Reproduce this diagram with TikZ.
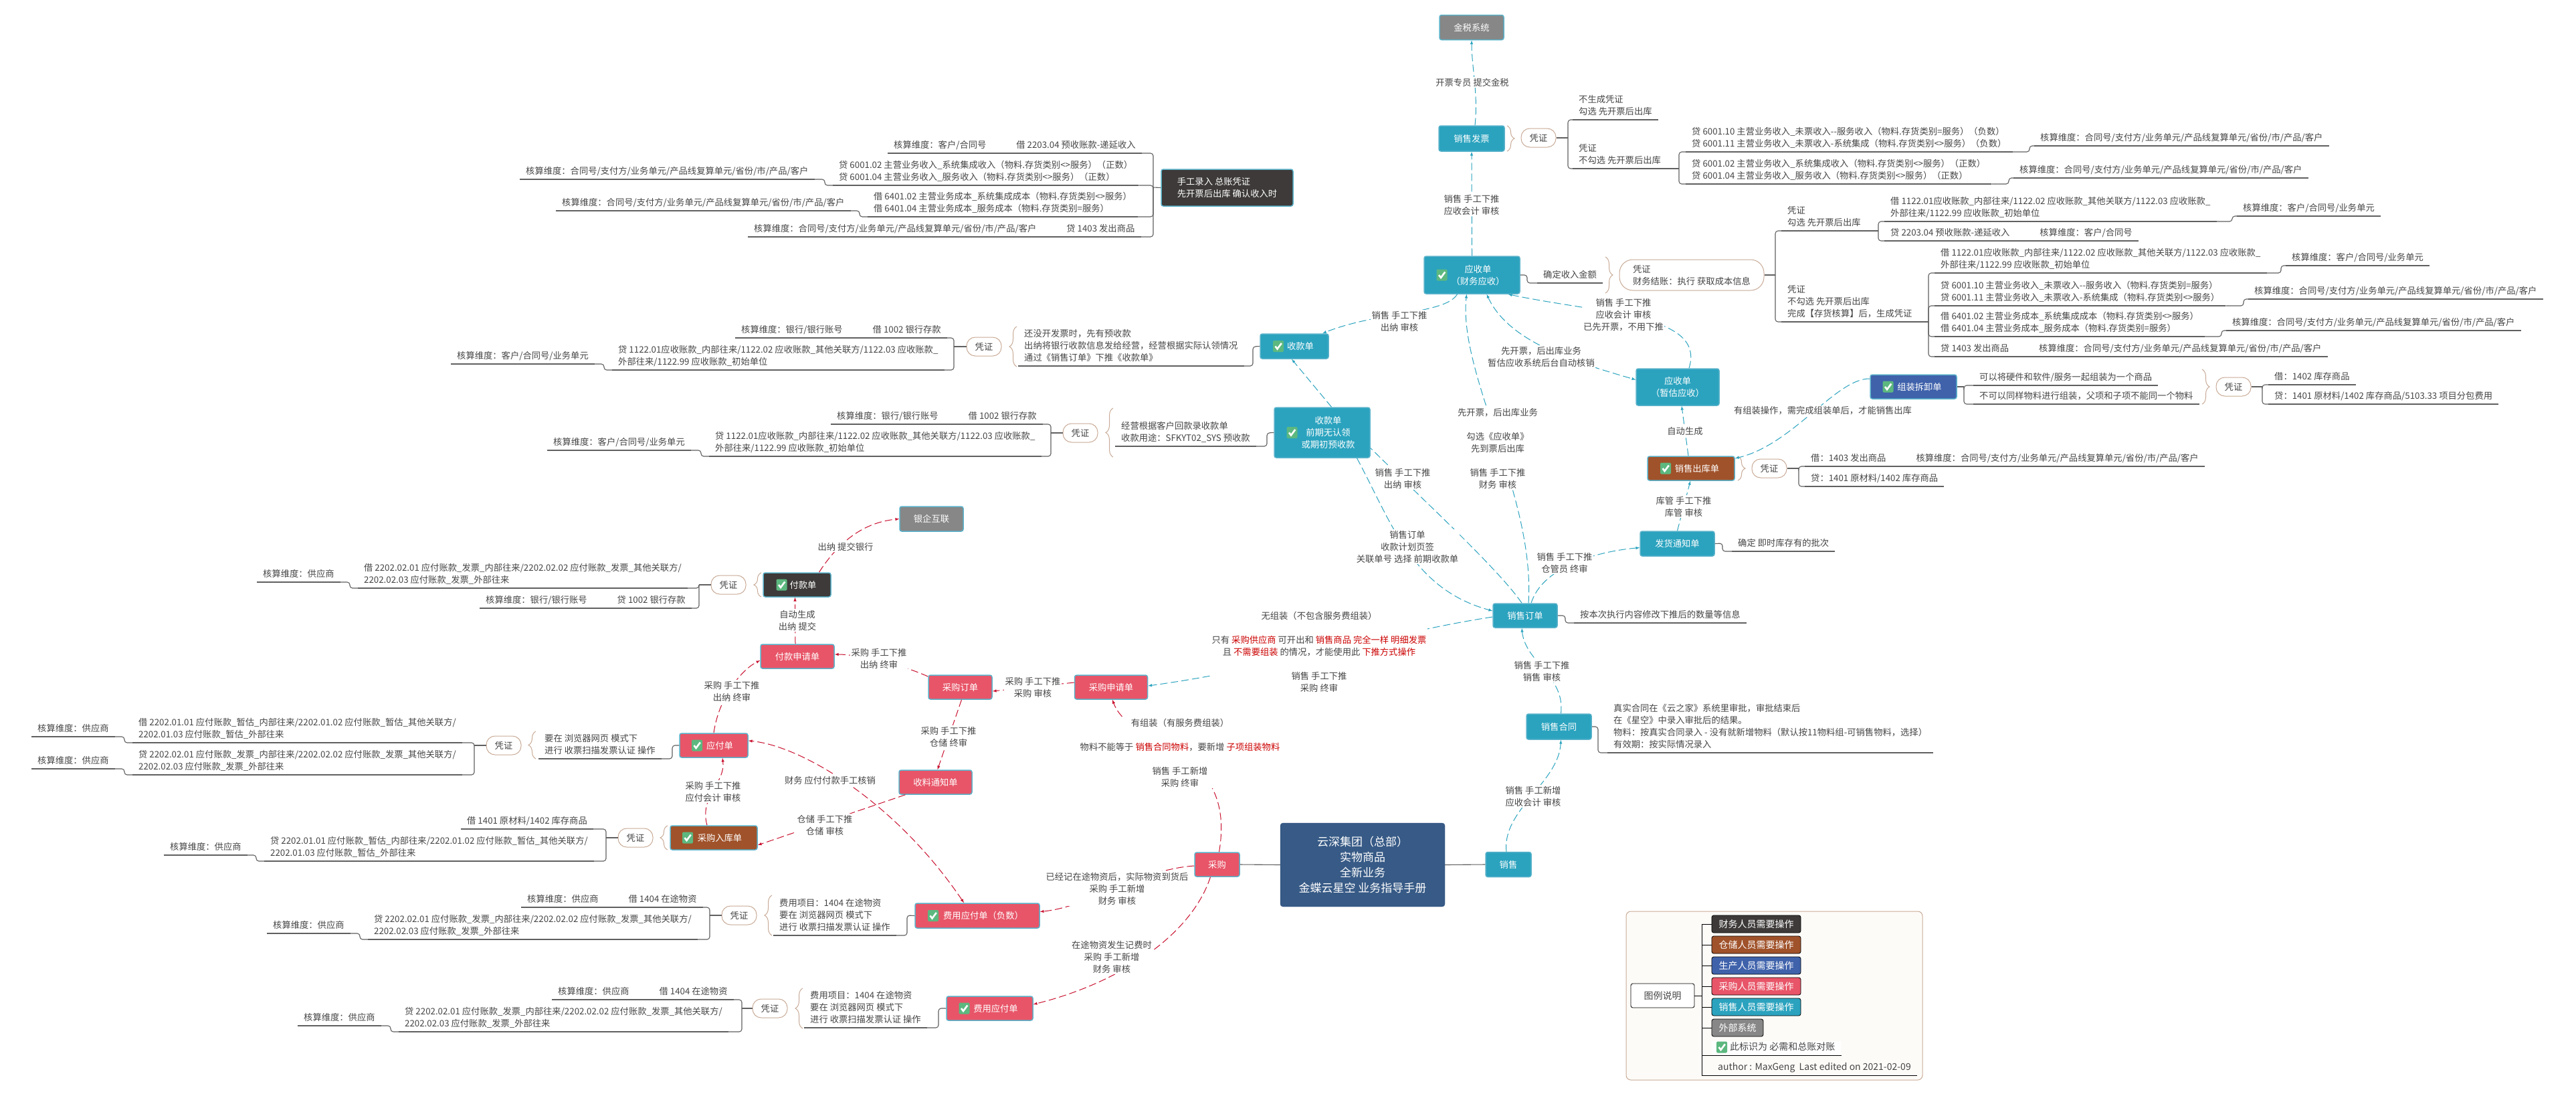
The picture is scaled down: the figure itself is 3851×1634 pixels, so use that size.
\documentclass[tikz,border=0pt]{standalone}
\usepackage{fontspec}
\setmainfont{Noto Sans CJK SC}
\usetikzlibrary{decorations.pathreplacing}
\definecolor{ink}{HTML}{454545}
\definecolor{mapteal}{HTML}{2BA3BF}
\definecolor{mapred}{HTML}{E85568}
\definecolor{mapbrown}{HTML}{A0522A}
\definecolor{mapdark}{HTML}{3D3A39}
\definecolor{mapblue}{HTML}{3F62AB}
\definecolor{mapgray}{HTML}{878787}
\definecolor{mapnavy}{HTML}{375A86}
\definecolor{edgeteal}{HTML}{5AB2CA}
\definecolor{linered}{HTML}{C8102E}
\definecolor{tanline}{HTML}{C8AA96}
\definecolor{twig}{HTML}{606060}
\definecolor{alert}{HTML}{CC0000}
\definecolor{tickgreen}{HTML}{5CB87F}
\definecolor{paper}{HTML}{FDFBF8}
\newcommand{\mapfont}{\fontsize{13.3}{18}\selectfont}
\newcommand{\legfont}{\fontsize{14}{18}\selectfont}
\newcommand{\gap}{\hspace{45pt}}
\newcommand{\tk}[1]{\hspace*{18pt}#1}
\newcommand{\rd}[1]{\textcolor{alert}{#1}}
\newcommand{\stepR}[2]{\draw[branch] (#1.south east) -| ([xshift=-7]#2.south west) -- (#2.south west);}
\newcommand{\stepL}[2]{\draw[branch] (#1.south west) -- ++(-12,0) |- (#2.south east);}
\newcommand{\dimAll}{核算维度：合同号/支付方/业务单元/产品线复算单元/省份/市/产品/客户}
\newcommand{\dimCust}{核算维度：客户/合同号/业务单元}
\newcommand{\dimSup}{核算维度：供应商}
\tikzset{
  box/.style={draw=edgeteal, line width=1.5pt, rounded corners=3, text=white, align=center},
  salebox/.style={box, fill=mapteal},
  buybox/.style={box, fill=mapred},
  darkbox/.style={box, fill=mapdark},
  storebox/.style={box, fill=mapbrown},
  makebox/.style={box, fill=mapblue},
  extbox/.style={box, fill=mapgray},
  pill/.style={draw=tanline, fill=white, line width=1pt, rounded corners=13, minimum width=52, minimum height=28, align=left},
  branch/.style={draw=twig, line width=1.1pt, rounded corners=4},
  leaf/.style={anchor=south west, align=left, inner xsep=9pt, inner ysep=1.6pt,
    execute at end node=\strut,
    append after command={(\tikzlastnode.south west) edge[branch] (\tikzlastnode.south east)}},
  flowT/.style={draw=mapteal, line width=1pt, dash pattern=on 11pt off 5pt, -latex},
  flowR/.style={draw=linered, line width=1pt, dash pattern=on 11pt off 5pt, -latex},
  lab/.style={fill=white, inner sep=1.5pt, align=center},
  bracket/.style={draw=tanline, line width=1pt, decorate, decoration={brace, amplitude=11}},
  legitem/.style={draw=black, line width=.8pt, rounded corners=3, text=white, minimum height=26, minimum width=133, font=\legfont},
  legtext/.style={anchor=south west, align=left, inner xsep=9pt, inner ysep=1.6pt, font=\legfont, execute at end node=\strut},
  legline/.style={draw=black, line width=1pt},
  tick/.pic={
    \fill[tickgreen, rounded corners=2] (-8,-8.5) rectangle (8,8.5);
    \draw[white, line width=2.6pt] (-4.5,0) -- (-1.5,4) -- (4.8,-4.5);
  }
}
\begin{document}
\begin{tikzpicture}[x=1pt, y=-1pt, every node/.style={font=\mapfont, text=ink}]
  \useasboundingbox (0,0) rectangle (3851,1634);

  \node[extbox, minimum width=96, minimum height=37] (Tax) at (2200,41) {金税系统};
  \node[salebox, minimum width=98, minimum height=38] (Invoice) at (2200,207) {销售发票};
  \node[salebox, minimum width=143, minimum height=56] (ArFin) at (2200.5,411) {\tk{应收单}\\\tk{（财务应收）}};
  \node[salebox, minimum width=102, minimum height=37] (RecvA) at (1935,517.5) {\tk{收款单}};
  \node[salebox, minimum width=143, minimum height=75] (RecvB) at (1976.5,646.5) {\tk{收款单}\\\tk{前期无认领}\\\tk{或期初预收款}};
  \node[salebox, minimum width=124, minimum height=55] (ArEst) at (2508,578.5) {应收单\\（暂估应收）};
  \node[storebox, minimum width=130, minimum height=36] (Outstock) at (2528,700) {\tk{销售出库单}};
  \node[salebox, minimum width=111, minimum height=37] (Notice) at (2507.5,812.5) {发货通知单};
  \node[makebox, minimum width=129, minimum height=36] (Assemble) at (2860.5,578) {\tk{组装拆卸单}};
  \node[salebox, minimum width=96, minimum height=36] (Order) at (2280,920) {销售订单};
  \node[salebox, minimum width=97, minimum height=38] (Contract) at (2330.5,1086) {销售合同};
  \node[salebox, minimum width=68, minimum height=37] (Sale) at (2255,1292) {销售};
  \node[draw=mapnavy, fill=mapnavy, rounded corners=4, text=white, align=center, minimum width=246, minimum height=125,
    font=\fontsize{17}{23}\selectfont] (Root) at (2037,1292.5) {云深集团（总部）\\实物商品\\全新业务\\金蝶云星空 业务指导手册};
  \node[buybox, minimum width=67, minimum height=36] (Buy) at (1819.5,1292) {采购};
  \node[buybox, minimum width=109, minimum height=36] (PurReq) at (1661,1027) {采购申请单};
  \node[buybox, minimum width=95, minimum height=36] (PurOrd) at (1435.5,1027) {采购订单};
  \node[buybox, minimum width=109, minimum height=36] (Arrival) at (1398.5,1169) {收料通知单};
  \node[buybox, minimum width=110, minimum height=36] (PayReq) at (1192,981) {付款申请单};
  \node[darkbox, minimum width=101, minimum height=36] (PayBill) at (1191.5,874) {\tk{付款单}};
  \node[extbox, minimum width=95, minimum height=37] (Bank) at (1392.5,775.5) {银企互联};
  \node[buybox, minimum width=102, minimum height=36] (Payable) at (1067,1114) {\tk{应付单}};
  \node[storebox, minimum width=130, minimum height=36] (Instock) at (1067,1252) {\tk{采购入库单}};
  \node[buybox, minimum width=186, minimum height=37] (FeeNeg) at (1461,1368.5) {\tk{费用应付单（负数）}};
  \node[buybox, minimum width=129, minimum height=36] (Fee) at (1479.5,1507) {\tk{费用应付单}};
  \node[darkbox, minimum width=197, minimum height=55, align=left] (Manual) at (1834.5,280.5) {手工录入 总账凭证\\先开票后出库 确认收入时};

  \pic at ([xshift=-45]ArFin.center) {tick};
  \pic at ([xshift=-24]RecvA.center) {tick};
  \pic at ([xshift=-45]RecvB.center) {tick};
  \pic at ([xshift=-38]Outstock.center) {tick};
  \pic at ([xshift=-38]Assemble.center) {tick};
  \pic at ([xshift=-23]PayBill.center) {tick};
  \pic at ([xshift=-25]Payable.center) {tick};
  \pic at ([xshift=-39]Instock.center) {tick};
  \pic at ([xshift=-66]FeeNeg.center) {tick};
  \pic at ([xshift=-38]Fee.center) {tick};

  \node[leaf] (M1) at (1327,229) {核算维度：客户/合同号\gap 借 2203.04 预收账款-递延收入};
  \node[leaf] (M2) at (1245,277) {贷 6001.02 主营业务收入\_系统集成收入（物料.存货类别<>服务）（正数）\\贷 6001.04 主营业务收入\_服务收入（物料.存货类别<>服务）（正数）};
  \node[leaf] (M2a) at (777,268) {\dimAll};
  \node[leaf] (M3) at (1297,324) {借 6401.02 主营业务成本\_系统集成成本（物料.存货类别<>服务）\\借 6401.04 主营业务成本\_服务成本（物料.存货类别=服务）};
  \node[leaf] (M3a) at (831,315) {\dimAll};
  \node[leaf] (M4) at (1118,354) {\dimAll\gap 贷 1403 发出商品};
  \coordinate (TrM) at (1724,280);
  \draw[branch] (Manual.west) -- (TrM);
  \draw[branch] (TrM) |- (M1.south east);
  \draw[branch] (TrM) |- (M2.south east);
  \draw[branch] (TrM) |- (M3.south east);
  \draw[branch] (TrM) |- (M4.south east);
  \stepL{M2}{M2a}
  \stepL{M3}{M3a}

  \draw[bracket] (2253,188) -- (2253,226);
  \node[pill] (PillI) at (2300,206) {凭证};
  \coordinate (TrI) at (2344,206);
  \coordinate (TrJ) at (2510,252);
  \node[leaf] (I1) at (2351,179) {不生成凭证\\勾选 先开票后出库};
  \node[leaf] (I2) at (2351,252) {凭证\\不勾选 先开票后出库};
  \node[leaf] (J1) at (2520,227) {贷 6001.10 主营业务收入\_未票收入-{}-服务收入（物料.存货类别=服务）（负数）\\贷 6001.11 主营业务收入\_未票收入-系统集成（物料.存货类别<>服务）（负数）};
  \node[leaf] (J1a) at (3041,218) {\dimAll};
  \node[leaf] (J2) at (2520,275) {贷 6001.02 主营业务收入\_系统集成收入（物料.存货类别<>服务）（正数）\\贷 6001.04 主营业务收入\_服务收入（物料.存货类别<>服务）（正数）};
  \node[leaf] (J2a) at (3010,266) {\dimAll};
  \draw[branch] (PillI.east) -- (TrI);
  \draw[branch] (TrI) |- (I1.south west);
  \draw[branch] (TrI) |- (I2.south west);
  \draw[branch] (I2.south east) -- (TrJ);
  \draw[branch] (TrJ) |- (J1.south west);
  \draw[branch] (TrJ) |- (J2.south west);
  \stepR{J1}{J1a}
  \stepR{J2}{J2a}

  \coordinate (TrF) at (2283,411);
  \node[leaf] (Conf) at (2298,423) {确定收入金额};
  \draw[branch] (ArFin.east) -- (TrF) |- (Conf.south west);
  \draw[bracket] (2400,384) -- (2400,438);
  \node[pill, rounded corners=20, minimum width=216, minimum height=46] (PillF) at (2529,411) {凭证\\财务结账：执行 获取成本信息};
  \coordinate (TrG) at (2654,411);
  \coordinate (TrH) at (2808,345);
  \coordinate (TrK) at (2883,481);
  \node[leaf] (G1) at (2663,345) {凭证\\勾选 先开票后出库};
  \node[leaf] (G2) at (2663,481) {凭证\\不勾选 先开票后出库\\完成【存货核算】后，生成凭证};
  \node[leaf] (H1) at (2817,331) {借 1122.01应收账款\_内部往来/1122.02 应收账款\_其他关联方/1122.03 应收账款\_\\外部往来/1122.99 应收账款\_初始单位};
  \node[leaf] (H1a) at (3344,323) {\dimCust};
  \node[leaf] (H2) at (2817,360) {贷 2203.04 预收账款-递延收入\gap 核算维度：客户/合同号};
  \node[leaf] (K1) at (2892,408) {借 1122.01应收账款\_内部往来/1122.02 应收账款\_其他关联方/1122.03 应收账款\_\\外部往来/1122.99 应收账款\_初始单位};
  \node[leaf] (K1a) at (3417,397) {\dimCust};
  \node[leaf] (K2) at (2892,457) {贷 6001.10 主营业务收入\_未票收入-{}-服务收入（物料.存货类别=服务）\\贷 6001.11 主营业务收入\_未票收入-系统集成（物料.存货类别<>服务）};
  \node[leaf] (K2a) at (3361,447) {\dimAll};
  \node[leaf] (K3) at (2892,503) {借 6401.02 主营业务成本\_系统集成成本（物料.存货类别<>服务）\\借 6401.04 主营业务成本\_服务成本（物料.存货类别=服务）};
  \node[leaf] (K3a) at (3328,494) {\dimAll};
  \node[leaf] (K4) at (2892,533) {贷 1403 发出商品\gap \dimAll};
  \draw[branch] (PillF.east) -- (TrG);
  \draw[branch] (TrG) |- (G1.south west);
  \draw[branch] (TrG) |- (G2.south west);
  \draw[branch] (G1.south east) -- (TrH);
  \draw[branch] (G2.south east) -- (TrK);
  \draw[branch] (TrH) |- (H1.south west);
  \draw[branch] (TrH) |- (H2.south west);
  \draw[branch] (TrK) |- (K1.south west);
  \draw[branch] (TrK) |- (K2.south west);
  \draw[branch] (TrK) |- (K3.south west);
  \draw[branch] (TrK) |- (K4.south west);
  \stepR{H1}{H1a}
  \stepR{K1}{K1a}
  \stepR{K2}{K2a}
  \stepR{K3}{K3a}

  \coordinate (TrA) at (1873,518);
  \coordinate (TrB) at (1426,518);
  \node[leaf] (A0) at (1522,547) {还没开发票时，先有预收款\\出纳将银行收款信息发给经营，经营根据实际认领情况\\通过《销售订单》下推《收款单》};
  \draw[bracket] (1520,548) -- (1520,488);
  \node[pill] (PillA) at (1471,518) {凭证};
  \node[leaf] (A1) at (1099,505) {核算维度：银行/银行账号\gap 借 1002 银行存款};
  \node[leaf] (A2) at (915,553) {贷 1122.01应收账款\_内部往来/1122.02 应收账款\_其他关联方/1122.03 应收账款\_\\外部往来/1122.99 应收账款\_初始单位};
  \node[leaf] (A2a) at (674,544) {\dimCust};
  \draw[branch] (RecvA.west) -- (TrA) |- (A0.south east);
  \draw[branch] (PillA.west) -- (TrB);
  \draw[branch] (TrB) |- (A1.south east);
  \draw[branch] (TrB) |- (A2.south east);
  \stepL{A2}{A2a}

  \coordinate (TrC) at (1894,647);
  \coordinate (TrD) at (1571,647);
  \node[leaf] (B0) at (1667,667) {经营根据客户回款录收款单\\收款用途：SFKYT02\_SYS 预收款};
  \draw[bracket] (1664,683) -- (1664,610);
  \node[pill] (PillB) at (1615,647) {凭证};
  \node[leaf] (B1) at (1242,634) {核算维度：银行/银行账号\gap 借 1002 银行存款};
  \node[leaf] (B2) at (1060,682) {贷 1122.01应收账款\_内部往来/1122.02 应收账款\_其他关联方/1122.03 应收账款\_\\外部往来/1122.99 应收账款\_初始单位};
  \node[leaf] (B2a) at (818,673) {\dimCust};
  \draw[branch] (RecvB.west) -- (TrC) |- (B0.south east);
  \draw[branch] (PillB.west) -- (TrD);
  \draw[branch] (TrD) |- (B1.south east);
  \draw[branch] (TrD) |- (B2.south east);
  \stepL{B2}{B2a}

  \coordinate (TrO) at (2340,920);
  \coordinate (TrN) at (2389,1086);
  \coordinate (TrP) at (2575,812);
  \node[leaf] (O1) at (2353,931) {按本次执行内容修改下推后的数量等信息};
  \node[leaf] (N1) at (2403,1125) {真实合同在《云之家》系统里审批，审批结束后\\在《星空》中录入审批后的结果。\\物料：按真实合同录入 - 没有就新增物料（默认按11物料组-可销售物料，选择）\\有效期：按实际情况录入};
  \node[leaf] (P1) at (2589,824) {确定 即时库存有的批次};
  \draw[branch] (Order.east) -- (TrO) |- (O1.south west);
  \draw[branch] (Contract.east) -- (TrN) |- (N1.south west);
  \draw[branch] (Notice.east) -- (TrP) |- (P1.south west);

  \coordinate (TrQ) at (2936,578);
  \coordinate (TrR) at (3382,578);
  \node[leaf] (Q1) at (2950,576) {可以将硬件和软件/服务一起组装为一个商品};
  \node[leaf] (Q2) at (2950,604) {不可以同样物料进行组装，父项和子项不能同一个物料};
  \draw[bracket] (3292,552) -- (3292,604);
  \node[pill] (PillQ) at (3339,578) {凭证};
  \node[leaf] (R1) at (3391,575) {借：1402 库存商品};
  \node[leaf] (R2) at (3391,604) {贷：1401 原材料/1402 库存商品/5103.33 项目分包费用};
  \draw[branch] (Assemble.east) -- (TrQ);
  \draw[branch] (TrQ) |- (Q1.south west);
  \draw[branch] (TrQ) |- (Q2.south west);
  \draw[branch] (PillQ.east) -- (TrR);
  \draw[branch] (TrR) |- (R1.south west);
  \draw[branch] (TrR) |- (R2.south west);

  \draw[bracket] (2598,682) -- (2598,718);
  \coordinate (TrS) at (2689,700);
  \node[pill] (PillS) at (2645,700) {凭证};
  \node[leaf] (S1) at (2698,697) {借：1403 发出商品\gap \dimAll};
  \node[leaf] (S2) at (2698,727) {贷：1401 原材料/1402 库存商品};
  \draw[branch] (PillS.east) -- (TrS);
  \draw[branch] (TrS) |- (S1.south west);
  \draw[branch] (TrS) |- (S2.south west);

  \draw[bracket] (1138,892) -- (1138,856);
  \coordinate (TrT) at (1045,874);
  \node[pill] (PillP) at (1089,874) {凭证};
  \node[leaf] (T1) at (535,879) {借 2202.02.01 应付账款\_发票\_内部往来/2202.02.02 应付账款\_发票\_其他关联方/\\2202.02.03 应付账款\_发票\_外部往来};
  \node[leaf] (T1a) at (384,870) {\dimSup};
  \node[leaf] (T2) at (717,909) {核算维度：银行/银行账号\gap 贷 1002 银行存款};
  \draw[branch] (PillP.west) -- (TrT);
  \draw[branch] (TrT) |- (T1.south east);
  \draw[branch] (TrT) |- (T2.south east);
  \stepL{T1}{T1a}

  \coordinate (TrU) at (1005,1114);
  \coordinate (TrV) at (709,1114);
  \node[leaf] (U0) at (805,1134) {要在 浏览器网页 模式下\\进行 收票扫描发票认证 操作};
  \draw[bracket] (801,1134) -- (801,1093);
  \node[pill] (PillU) at (753,1114) {凭证};
  \node[leaf] (V1) at (198,1110) {借 2202.01.01 应付账款\_暂估\_内部往来/2202.01.02 应付账款\_暂估\_其他关联方/\\2202.01.03 应付账款\_暂估\_外部往来};
  \node[leaf] (V1a) at (47,1101) {\dimSup};
  \node[leaf] (V2) at (198,1158) {贷 2202.02.01 应付账款\_发票\_内部往来/2202.02.02 应付账款\_发票\_其他关联方/\\2202.02.03 应付账款\_发票\_外部往来};
  \node[leaf] (V2a) at (47,1149) {\dimSup};
  \draw[branch] (Payable.west) -- (TrU) |- (U0.south east);
  \draw[branch] (PillU.west) -- (TrV);
  \draw[branch] (TrV) |- (V1.south east);
  \draw[branch] (TrV) |- (V2.south east);
  \stepL{V1}{V1a}
  \stepL{V2}{V2a}

  \draw[bracket] (998,1270) -- (998,1234);
  \coordinate (TrW) at (906,1252);
  \node[pill] (PillW) at (950,1252) {凭证};
  \node[leaf] (W1) at (689,1239) {借 1401 原材料/1402 库存商品};
  \node[leaf] (W2) at (395,1287) {贷 2202.01.01 应付账款\_暂估\_内部往来/2202.01.02 应付账款\_暂估\_其他关联方/\\2202.01.03 应付账款\_暂估\_外部往来};
  \node[leaf] (W2a) at (245,1278) {\dimSup};
  \draw[branch] (PillW.west) -- (TrW);
  \draw[branch] (TrW) |- (W1.south east);
  \draw[branch] (TrW) |- (W2.south east);
  \stepL{W2}{W2a}

  \coordinate (TrX) at (1356,1368);
  \coordinate (TrY) at (1061,1368);
  \node[leaf] (X0) at (1156,1398) {费用项目：1404 在途物资\\要在 浏览器网页 模式下\\进行 收票扫描发票认证 操作};
  \draw[bracket] (1154,1398) -- (1154,1338);
  \node[pill] (PillX) at (1105,1368) {凭证};
  \node[leaf] (Y1) at (779,1356) {\dimSup\gap 借 1404 在途物资};
  \node[leaf] (Y2) at (550,1404) {贷 2202.02.01 应付账款\_发票\_内部往来/2202.02.02 应付账款\_发票\_其他关联方/\\2202.02.03 应付账款\_发票\_外部往来};
  \node[leaf] (Y2a) at (399,1395) {\dimSup};
  \draw[branch] (FeeNeg.west) -- (TrX) |- (X0.south east);
  \draw[branch] (PillX.west) -- (TrY);
  \draw[branch] (TrY) |- (Y1.south east);
  \draw[branch] (TrY) |- (Y2.south east);
  \stepL{Y2}{Y2a}

  \coordinate (TrZ) at (1403,1507);
  \coordinate (TrE) at (1109,1507);
  \node[leaf] (Z0) at (1202,1536) {费用项目：1404 在途物资\\要在 浏览器网页 模式下\\进行 收票扫描发票认证 操作};
  \draw[bracket] (1200,1537) -- (1200,1477);
  \node[pill] (PillZ) at (1151,1507) {凭证};
  \node[leaf] (E1) at (825,1494) {\dimSup\gap 借 1404 在途物资};
  \node[leaf] (E2) at (596,1542) {贷 2202.02.01 应付账款\_发票\_内部往来/2202.02.02 应付账款\_发票\_其他关联方/\\2202.02.03 应付账款\_发票\_外部往来};
  \node[leaf] (E2a) at (445,1533) {\dimSup};
  \draw[branch] (Fee.west) -- (TrZ) |- (Z0.south east);
  \draw[branch] (PillZ.west) -- (TrE);
  \draw[branch] (TrE) |- (E1.south east);
  \draw[branch] (TrE) |- (E2.south east);
  \stepL{E2}{E2a}

  \draw[branch] (Root.west) -- (Buy.east);
  \draw[branch] (Root.east) -- (Sale.west);

  \draw[flowT] ([xshift=5]Invoice.north) .. controls (2210,140) and (2200,100) .. (Tax.south);
  \draw[flowT] (ArFin.north) -- (Invoice.south);
  \draw[flowT] ([xshift=-22]ArFin.south) .. controls (2160,470) and (2060,465) .. ([xshift=42]RecvA.north);
  \draw[flowT] ([xshift=14]RecvB.north) -- ([xshift=-4]RecvA.south);
  \draw[flowT] ([xshift=17]ArEst.north) .. controls (2550,470) and (2400,470) .. ([xshift=54]ArFin.south);
  \draw[flowT, latex-latex] ([xshift=22]ArFin.south) .. controls (2255,510) and (2350,540) .. ([yshift=11]ArEst.west);
  \draw[flowT] ([xshift=5]Order.north) .. controls (2295,740) and (2180,560) .. ([xshift=-8]ArFin.south);
  \draw[flowT, -] ([xshift=-5]Order.north) .. controls (2240,850) and (2120,740) .. ([yshift=-23]RecvB.east);
  \draw[flowT] ([xshift=52]RecvB.south) .. controls (2080,780) and (2110,880) .. ([yshift=7]Order.west);
  \draw[flowT] ([xshift=9]Order.north) .. controls (2305,850) and (2380,825) .. ([yshift=-6]Notice.west);
  \draw[flowT] (Notice.north) -- ([xshift=-1]Outstock.south);
  \draw[flowT] ([xshift=-4]Outstock.north) -- ([xshift=6]ArEst.south);
  \draw[flowT] ([yshift=12]Assemble.west) .. controls (2745,565) and (2680,665) .. ([yshift=15]Outstock.east);
  \draw[flowT] ([yshift=-2]Order.west) .. controls (2080,945) and (1900,1000) .. ([yshift=2]PurReq.east);
  \draw[flowT] ([xshift=3]Contract.north) .. controls (2340,1010) and (2280,990) .. ([xshift=-5]Order.south);
  \draw[flowT] ([xshift=-3]Sale.north) .. controls (2245,1210) and (2330,1170) .. ([xshift=3]Contract.south);

  \draw[flowR] ([xshift=3]Buy.north) .. controls (1850,1110) and (1690,1120) .. ([xshift=2]PurReq.south);
  \draw[flowR] ([yshift=7]PurReq.west) -- ([yshift=-6]PurOrd.east);
  \draw[flowR] ([yshift=16]PurOrd.west) .. controls (1340,990) and (1280,978) .. ([yshift=3]PayReq.east);
  \draw[flowR] ([xshift=2]PurOrd.south) -- ([xshift=3]Arrival.north);
  \draw[flowR] ([xshift=-45]Arrival.south) -- ([yshift=-11]Instock.east);
  \draw[flowR] ([xshift=-10]Instock.north) .. controls (1045,1190) and (1085,1170) .. ([xshift=13]Payable.south);
  \draw[flowR] (Payable.north) .. controls (1075,1040) and (1110,1000) .. ([yshift=-6]PayReq.west);
  \draw[flowR] ([xshift=-3]PayReq.north) -- ([xshift=-3]PayBill.south);
  \draw[flowR] ([xshift=33]PayBill.north) .. controls (1260,800) and (1300,780) .. (Bank.west);
  \draw[flowR, latex-latex] ([xshift=-20]FeeNeg.north) .. controls (1340,1200) and (1200,1115) .. ([yshift=7]Payable.east);
  \draw[flowR] ([yshift=-2]Buy.west) .. controls (1700,1300) and (1630,1355) .. ([yshift=6]FeeNeg.east);
  \draw[flowR] ([xshift=-10]Buy.south) .. controls (1780,1400) and (1670,1470) .. ([yshift=6]Fee.east);

  \node[lab] (LTax) at (2201,123) {开票专员 提交金税};
  \node[lab] (LInv) at (2200,306) {销售 手工下推\\应收会计 审核};
  \node[lab] (LRecv) at (2092,480) {销售 手工下推\\出纳 审核};
  \node[lab] (LEst) at (2427,471) {销售 手工下推\\应收会计 审核\\已先开票，不用下推};
  \node[lab] (LWrite) at (2304,533) {先开票，后出库业务\\暂估应收系统后台自动核销};
  \node[lab] (LLong) at (2239,670) {先开票，后出库业务\\[18pt]勾选《应收单》\\先到票后出库\\[18pt]销售 手工下推\\财务 审核};
  \node[lab] (LPre) at (2097,715) {销售 手工下推\\出纳 审核};
  \node[lab] (LPlan) at (2104,817) {销售订单\\收款计划页签\\关联单号 选择 前期收款单};
  \node[lab] (LShip) at (2339,841) {销售 手工下推\\仓管员 终审};
  \node[lab] (LStock) at (2517,757) {库管 手工下推\\库管 审核};
  \node[lab] (LAuto) at (2519,644) {自动生成};
  \node[lab] (LAsm) at (2725,614) {有组装操作，需完成组装单后，才能销售出库};
  \node[lab] (LOrder) at (1972,974) {无组装（不包含服务费组装）\\[18pt]只有 \rd{采购供应商} 可开出和 \rd{销售商品 完全一样 明细发票}\\且 \rd{不需要组装} 的情况，才能使用此 \rd{下推方式操作}\\[18pt]销售 手工下推\\采购 终审};
  \node[lab] (LSign) at (2305,1003) {销售 手工下推\\销售 审核};
  \node[lab] (LSale) at (2292,1190) {销售 手工新增\\应收会计 审核};
  \node[lab] (LReq) at (1764,1125) {有组装（有服务费组装）\\[18pt]物料不能等于 \rd{销售合同物料}，要新增 \rd{子项组装物料}\\[18pt]销售 手工新增\\采购 终审};
  \node[lab] (LPo) at (1544,1027) {采购 手工下推\\采购 审核};
  \node[lab] (LPay) at (1314,984) {采购 手工下推\\出纳 终审};
  \node[lab] (LArr) at (1418,1101) {采购 手工下推\\仓储 终审};
  \node[lab] (LIn) at (1233,1233) {仓储 手工下推\\仓储 审核};
  \node[lab] (LApp) at (1066,1183) {采购 手工下推\\应付会计 审核};
  \node[lab] (LPayReq) at (1094,1033) {采购 手工下推\\出纳 终审};
  \node[lab] (LWo) at (1241,1166) {财务 应付付款手工核销};
  \node[lab] (LBill) at (1192,927) {自动生成\\出纳 提交};
  \node[lab] (LBank) at (1264,817) {出纳 提交银行};
  \node[lab] (LNeg) at (1670,1328) {已经记在途物资后，实际物资到货后\\采购 手工新增\\财务 审核};
  \node[lab] (LFee) at (1662,1430) {在途物资发生记费时\\采购 手工新增\\财务 审核};

  \node[draw=tanline, fill=paper, line width=1pt, rounded corners=7, minimum width=443, minimum height=252] (Legend) at (2652.5,1488) {};
  \node[draw=black, fill=white, line width=.8pt, rounded corners=3, minimum width=95, minimum height=36, font=\legfont] (LegRoot) at (2485.5,1488) {图例说明};
  \node[legitem, fill=mapdark] (Lg1) at (2625.5,1381) {财务人员需要操作};
  \node[legitem, fill=mapbrown] (Lg2) at (2625.5,1412) {仓储人员需要操作};
  \node[legitem, fill=mapblue] (Lg3) at (2625.5,1443) {生产人员需要操作};
  \node[legitem, fill=mapred] (Lg4) at (2625.5,1474) {采购人员需要操作};
  \node[legitem, fill=mapteal] (Lg5) at (2625.5,1505) {销售人员需要操作};
  \node[legitem, fill=mapgray, minimum width=77] (Lg6) at (2597.5,1536) {外部系统};
  \node[legtext, fill=white] (Lg7) at (2559,1577) {\tk{此标识为 必需和总账对账}};
  \node[legtext] (Lg8) at (2559,1607) {author : MaxGeng\ \ Last edited on 2021-02-09};
  \pic at (2574,1565) {tick};
  \coordinate (TrL) at (2544,1488);
  \draw[legline] (LegRoot.east) -- (TrL);
  \draw[legline] (TrL) |- (Lg1.west);
  \draw[legline] (TrL) |- (Lg2.west);
  \draw[legline] (TrL) |- (Lg3.west);
  \draw[legline] (TrL) |- (Lg4.west);
  \draw[legline] (TrL) |- (Lg5.west);
  \draw[legline] (TrL) |- (Lg6.west);
  \draw[legline] (TrL) |- (Lg7.south east);
  \draw[legline] (TrL) |- (Lg8.south east);
\end{tikzpicture}
\end{document}
